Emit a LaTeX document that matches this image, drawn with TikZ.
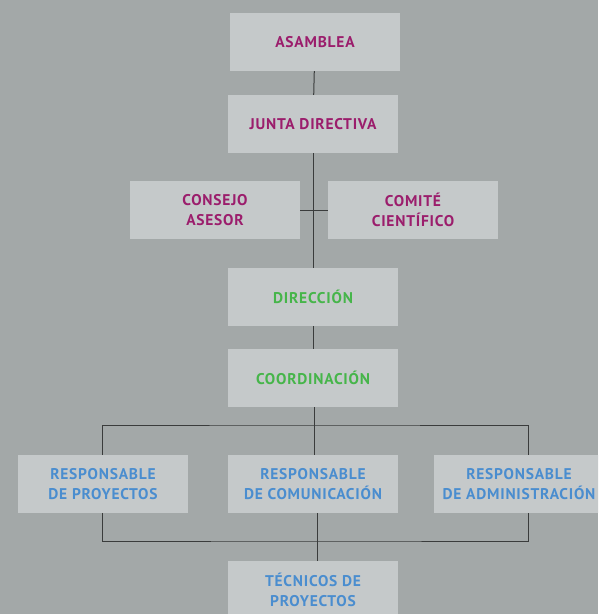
\documentclass[tikz,border=0pt]{standalone}
\usepackage{fontspec}
\setmainfont{PT Sans}[LetterSpace=5]
\definecolor{bggray}{HTML}{A3A8A8}
\definecolor{boxgray}{HTML}{C5C9CA}
\definecolor{linegray}{HTML}{3A3C3C}
\definecolor{plum}{HTML}{9B1D6C}
\definecolor{leaf}{HTML}{46B54A}
\definecolor{sky}{HTML}{4A8DCF}
\begin{document}
\begin{tikzpicture}[x=1pt,y=-1pt]
\tikzstyle{box}=[fill=boxgray,minimum width=170pt,minimum height=58pt,inner sep=0pt,align=center,font=\fontsize{15.5}{20}\selectfont\bfseries]
\tikzstyle{link}=[draw=linegray,line width=1pt]
\useasboundingbox (0,0) rectangle (598,614);
\clip (0,0) rectangle (598,614);
\fill[bggray] (0,0) rectangle (598,614);

\path (315,42) node[box,text=plum](asam){ASAMBLEA};
\path (313,124) node[box,text=plum](junta){JUNTA DIRECTIVA};
\path (215,210) node[box,text=plum](cons){CONSEJO\\ASESOR} (413,210) node[box,text=plum](comi){COMITÉ\\CIENTÍFICO};
\path (313,297) node[box,text=leaf](dir){DIRECCIÓN};
\path (313,378) node[box,text=leaf](coord){COORDINACIÓN};
\path (103,484) node[box,text=sky](rpro){RESPONSABLE\\DE PROYECTOS} (313,484) node[box,text=sky](rcom){RESPONSABLE\\DE COMUNICACIÓN} (519,484) node[box,text=sky](radm){RESPONSABLE\\DE ADMINISTRACIÓN};
\path (313,590) node[box,text=sky](tec){TÉCNICOS DE\\PROYECTOS};
\coordinate (top) at (314,425);
\coordinate (bot) at (317,541);

\draw[link] (asam) -- (junta);
\draw[link] (junta) -- (dir);
\draw[link] (cons) -- (comi);
\draw[link] (dir) -- (coord);
\draw[link] ([xshift=1pt]coord.south) -- ([xshift=1pt]rcom.north);
\draw[link] ([xshift=-1pt]rpro.north) |- (top) -| ([xshift=9pt]radm.north);
\draw[link] ([xshift=-1pt]rpro.south) |- (bot) -| ([xshift=9pt]radm.south);
\draw[link] ([xshift=4pt]rcom.south) -- ([xshift=4pt]tec.north);
\end{tikzpicture}
\end{document}
